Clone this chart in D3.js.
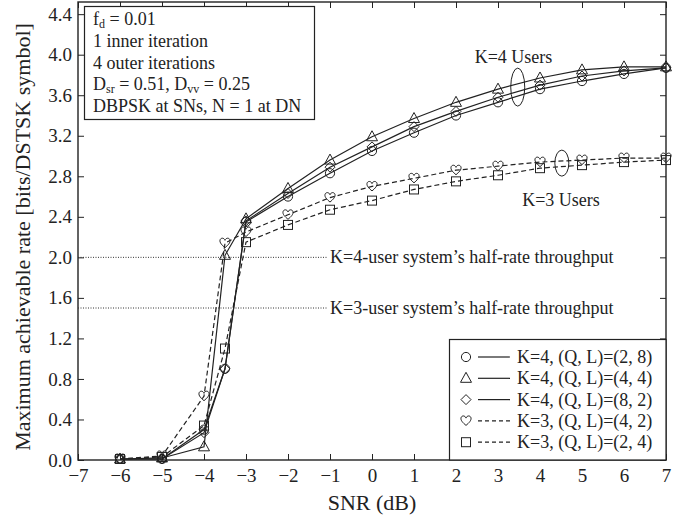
<!DOCTYPE html>
<html>
<head>
<meta charset="utf-8">
<script src="https://cdn.jsdelivr.net/npm/d3@7"></script>
<style>
  body { margin: 0; background: #fff; }
  svg { display: block; font-family: "Liberation Serif", "DejaVu Serif", serif; }
  .axis path { display: none; }
  .axis line { stroke: #222; stroke-width: 1; }
  .axis text { font-size: 19px; fill: #222; font-family: "Liberation Serif", serif; }
</style>
</head>
<body>
<div class="chart"></div>
<script>
// SNR points shared by all curves
const snr = [-6, -5, -4, -3.5, -3, -2, -1, 0, 1, 2, 3, 4, 5, 6, 7];

const k4q2l8 = [0.01, 0.01, 0.30, 0.90, 2.35, 2.60, 2.83, 3.05, 3.23, 3.40, 3.53, 3.66, 3.74, 3.81, 3.87];
const k4q4l4 = [0.01, 0.02, 0.13, 2.02, 2.38, 2.68, 2.96, 3.19, 3.37, 3.53, 3.66, 3.77, 3.85, 3.88, 3.88];
const k4q8l2 = [0.01, 0.01, 0.27, 0.90, 2.36, 2.63, 2.89, 3.09, 3.29, 3.44, 3.58, 3.70, 3.79, 3.84, 3.87];
const k3q4l2 = [0.01, 0.04, 0.63, 2.14, 2.25, 2.42, 2.59, 2.70, 2.78, 2.86, 2.90, 2.94, 2.96, 2.98, 2.98];
const k3q2l4 = [0.01, 0.03, 0.34, 1.10, 2.15, 2.32, 2.47, 2.56, 2.67, 2.75, 2.81, 2.88, 2.91, 2.94, 2.96];

const seriesNames = [
  "K=4, (Q, L)=(2, 8)",
  "K=4, (Q, L)=(4, 4)",
  "K=4, (Q, L)=(8, 2)",
  "K=3, (Q, L)=(4, 2)",
  "K=3, (Q, L)=(2, 4)"
];
const seriesValues = [k4q2l8, k4q4l4, k4q8l2, k3q4l2, k3q2l4];
const seriesMarkers = ["circle", "triangle", "diamond", "heart", "square"];
const seriesDashed = [false, false, false, true, true];

const xTicks = d3.range(-7, 8, 1);
const yTicks = [0, 0.4, 0.8, 1.2, 1.6, 2.0, 2.4, 2.8, 3.2, 3.6, 4.0, 4.4];

// half-rate throughput reference lines
const refLevels = [2.0, 1.5];
const refLabels = ["K=4-user system\u2019s half-rate throughput", "K=3-user system\u2019s half-rate throughput"];

const infoLines = ["f_d = 0.01", "1 inner iteration", "4 outer iterations", "D_sr", "DBPSK at SNs, N = 1 at DN"];

const W = 686, H = 518;
const plot = { left: 78, right: 666, top: 2, bottom: 460 };
const fs = 18;

const x = d3.scaleLinear().domain([-7, 7]).range([plot.left, plot.right]);
const y = d3.scaleLinear().domain([0, 4.52]).range([plot.bottom, plot.top]);

const svg = d3.select(".chart").append("svg")
  .attr("width", W).attr("height", H)
  .attr("viewBox", `0 0 ${W} ${H}`);

// axes, ticks pointing inward
svg.append("g").attr("class", "axis")
  .attr("transform", `translate(0,${plot.bottom})`)
  .call(d3.axisBottom(x).tickValues(xTicks).tickSize(-6).tickPadding(9).tickFormat(d3.format("d")));
svg.append("g").attr("class", "axis")
  .attr("transform", `translate(0,${plot.top})`)
  .call(d3.axisTop(x).tickValues(xTicks).tickSize(-6).tickFormat(""));
svg.append("g").attr("class", "axis")
  .attr("transform", `translate(${plot.left},0)`)
  .call(d3.axisLeft(y).tickValues(yTicks).tickSize(-6).tickPadding(6).tickFormat(d3.format(".1f")));
svg.append("g").attr("class", "axis")
  .attr("transform", `translate(${plot.right},0)`)
  .call(d3.axisRight(y).tickValues(yTicks).tickSize(-6).tickFormat(""));

svg.append("rect")
  .attr("x", plot.left).attr("y", plot.top)
  .attr("width", plot.right - plot.left).attr("height", plot.bottom - plot.top)
  .attr("fill", "none").attr("stroke", "#222").attr("stroke-width", 1.4);

// axis titles
svg.append("text")
  .attr("x", x(0)).attr("y", 510)
  .attr("text-anchor", "middle").attr("font-size", 22).attr("fill", "#222")
  .text("SNR (dB)");
svg.append("text")
  .attr("transform", `translate(30,${(plot.top + plot.bottom) / 2 + 6}) rotate(-90)`)
  .attr("text-anchor", "middle").attr("font-size", 22).attr("fill", "#222")
  .text("Maximum achievable rate [bits/DSTSK symbol]");

// reference dotted lines
refLevels.forEach((lvl, i) => {
  svg.append("line")
    .attr("x1", plot.left).attr("x2", 328)
    .attr("y1", y(lvl)).attr("y2", y(lvl))
    .attr("stroke", "#333").attr("stroke-width", 1).attr("stroke-dasharray", "1,1.5");
  svg.append("text")
    .attr("x", 330).attr("y", y(lvl) + 6)
    .attr("font-size", fs).attr("fill", "#222")
    .text(refLabels[i]);
});

// marker drawing
function drawMarker(g, type) {
  const st = { fill: "none", stroke: "#222", "stroke-width": 1 };
  let el;
  if (type === "circle") {
    el = g.append("circle").attr("r", 4.6);
  } else if (type === "triangle") {
    el = g.append("path").attr("d", "M0,-6 L5.5,4 L-5.5,4 Z");
  } else if (type === "diamond") {
    el = g.append("path").attr("d", "M0,-5 L5,0 L0,5 L-5,0 Z");
  } else if (type === "square") {
    el = g.append("rect").attr("x", -4.5).attr("y", -4.5).attr("width", 9).attr("height", 9);
  } else {
    el = g.append("path")
      .attr("d", "M0,4.5 C-3,2 -5.5,-0.5 -5,-3 C-4.5,-5.5 -1,-5.8 0,-2.8 C1,-5.8 4.5,-5.5 5,-3 C5.5,-0.5 3,2 0,4.5 Z");
  }
  Object.entries(st).forEach(([k, v]) => el.attr(k, v));
}

const line = d3.line().x(d => x(d[0])).y(d => y(d[1]));

seriesValues.forEach((vals, i) => {
  const pts = snr.map((s, j) => [s, vals[j]]);
  svg.append("path")
    .datum(pts)
    .attr("d", line)
    .attr("fill", "none")
    .attr("stroke", "#222")
    .attr("stroke-width", 1.2)
    .attr("stroke-dasharray", seriesDashed[i] ? "5,3" : null);
  pts.forEach(p => {
    const g = svg.append("g").attr("transform", `translate(${x(p[0])},${y(p[1])})`);
    drawMarker(g, seriesMarkers[i]);
  });
});

// group annotations
svg.append("ellipse")
  .attr("cx", x(3.47)).attr("cy", y(3.68)).attr("rx", 7).attr("ry", 19)
  .attr("fill", "none").attr("stroke", "#222").attr("stroke-width", 1);
svg.append("text")
  .attr("x", x(3.37)).attr("y", 63).attr("text-anchor", "middle")
  .attr("font-size", fs).attr("fill", "#222").text("K=4 Users");
svg.append("ellipse")
  .attr("cx", x(4.52)).attr("cy", y(2.93)).attr("rx", 7).attr("ry", 13)
  .attr("fill", "none").attr("stroke", "#222").attr("stroke-width", 1);
svg.append("text")
  .attr("x", x(4.5)).attr("y", 206).attr("text-anchor", "middle")
  .attr("font-size", fs).attr("fill", "#222").text("K=3 Users");

// info box
const info = svg.append("g");
info.append("rect")
  .attr("x", 84.5).attr("y", 6.5).attr("width", 230).attr("height", 113)
  .attr("fill", "#fff").attr("stroke", "#222").attr("stroke-width", 1.2);
const infoY = [25, 47, 69, 90, 112];
const t0 = info.append("text").attr("x", 93).attr("y", infoY[0]).attr("font-size", fs).attr("fill", "#222");
t0.append("tspan").text("f");
t0.append("tspan").attr("font-size", 12).attr("dy", 3).text("d");
t0.append("tspan").attr("dy", -3).text(" = 0.01");
info.append("text").attr("x", 93).attr("y", infoY[1]).attr("font-size", fs).attr("fill", "#222").text(infoLines[1]);
info.append("text").attr("x", 93).attr("y", infoY[2]).attr("font-size", fs).attr("fill", "#222").text(infoLines[2]);
const t3 = info.append("text").attr("x", 93).attr("y", infoY[3]).attr("font-size", fs).attr("fill", "#222");
t3.append("tspan").text("D");
t3.append("tspan").attr("font-size", 12).attr("dy", 3).text("sr");
t3.append("tspan").attr("dy", -3).text(" = 0.51, D");
t3.append("tspan").attr("font-size", 12).attr("dy", 3).text("vv");
t3.append("tspan").attr("dy", -3).text(" = 0.25");
info.append("text").attr("x", 93).attr("y", infoY[4]).attr("font-size", fs).attr("fill", "#222").text(infoLines[4]);

// legend
const legend = svg.append("g");
legend.append("rect")
  .attr("x", 449.5).attr("y", 339.5).attr("width", plot.right - 449.5).attr("height", plot.bottom - 339.5)
  .attr("fill", "#fff").attr("stroke", "#222").attr("stroke-width", 1.2);
seriesNames.forEach((name, i) => {
  const cy = 357 + i * 21.3;
  const g = legend.append("g").attr("transform", `translate(466,${cy})`);
  drawMarker(g, seriesMarkers[i]);
  legend.append("line")
    .attr("x1", 478).attr("x2", 510).attr("y1", cy).attr("y2", cy)
    .attr("stroke", "#222").attr("stroke-width", 1.2)
    .attr("stroke-dasharray", seriesDashed[i] ? "4,3" : null);
  legend.append("text")
    .attr("x", 517).attr("y", cy + 6)
    .attr("font-size", fs).attr("fill", "#222").text(name);
});
</script>
</body>
</html>
